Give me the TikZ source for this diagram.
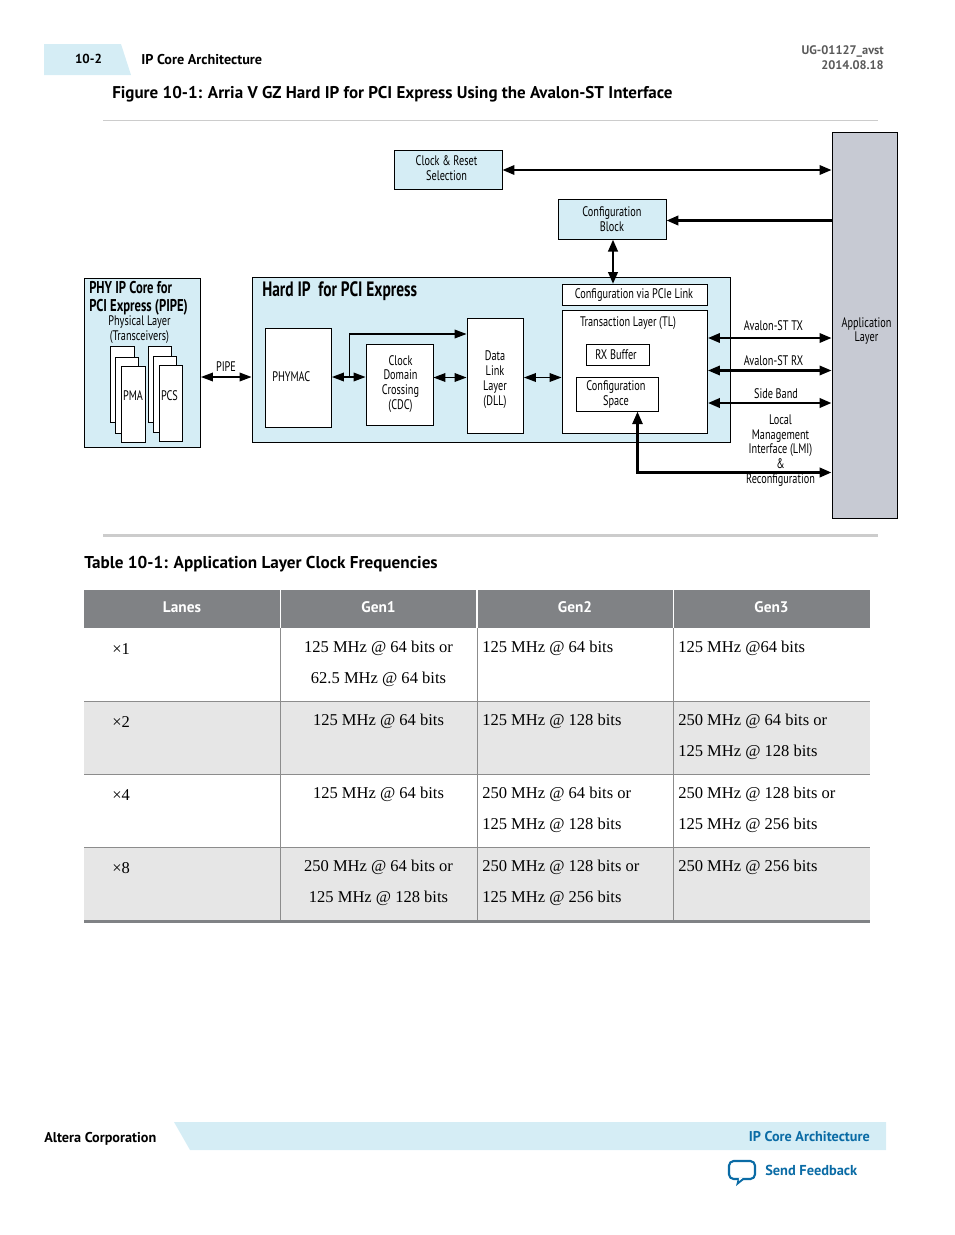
\documentclass[tikz,border=0pt]{standalone}
\usepackage{fontspec}
\setmainfont{Liberation Serif}
\newfontfamily\hd{PT Sans}
\newfontfamily\cnd[FakeStretch=0.74]{PT Sans}
\usetikzlibrary{arrows.meta}
\definecolor{lblue}{HTML}{D5EDF5}
\definecolor{hgray}{HTML}{808285}
\definecolor{rgray}{HTML}{E6E6E6}
\definecolor{appg}{HTML}{C7CAD3}
\definecolor{ablue}{HTML}{0A6BA5}
\tikzset{
  x=0.75pt,y=-0.75pt,
  wbox/.style={draw=black,line width=0.65pt,fill=white,inner sep=0pt,align=center,font=\cnd\fontsize{10.4}{11.2}\selectfont},
  bbox/.style={wbox,fill=lblue},
  gbox/.style={wbox,fill=appg},
  lab/.style={inner sep=0pt,align=center,font=\cnd\fontsize{10.4}{11.2}\selectfont},
  ttl/.style={inner sep=0pt,align=left,font=\cnd\bfseries\fontsize{12.8}{12.8}\selectfont},
  big/.style={inner sep=0pt,anchor=west,font=\cnd\bfseries\fontsize{15.6}{16}\selectfont},
  head/.style={inner sep=0pt,font=\hd\bfseries\fontsize{10.65}{12}\selectfont},
  cell/.style={inner sep=0pt,font=\fontsize{12.4}{15}\selectfont},
  thd/.style={inner sep=0pt,text=white,font=\hd\bfseries\fontsize{11.5}{13}\selectfont},
  both/.style={{Triangle[length=9pt,width=6.5pt]}-{Triangle[length=9pt,width=6.5pt]},line width=1pt},
  bothm/.style={{Triangle[length=9pt,width=7pt]}-{Triangle[length=9pt,width=7pt]},line width=1.7pt},
  toh/.style={-{Triangle[length=9pt,width=6.5pt]},line width=1pt},
  thick2/.style={line width=2.1pt},
}
\newcommand{\bx}[7]{\node[#6,minimum width={(#4-#2)*0.75pt},minimum height={(#5-#3)*0.75pt}] (#1) at ({(#2+#4)/2},{(#3+#5)/2}) {#7};}
\begin{document}
\begin{tikzpicture}
\useasboundingbox (0,0) rectangle (954,1235);
% page furniture
\fill[lblue] (44,44) -- (121,44) -- (131,75) -- (44,75) -- cycle;
\node[head,font=\hd\bfseries\fontsize{9.8}{11}\selectfont] (pg) at (88.5,59) {10-2};
\node[head,anchor=west] (chap) at (141,60) {IP Core Architecture};
\node[inner sep=0pt,align=right,anchor=north east,text=black!65,font=\hd\bfseries\fontsize{9.3}{11.2}\selectfont] (doc) at (884,45) {UG-01127\_avst\\2014.08.18};
\node[inner sep=0pt,anchor=west,font=\hd\bfseries\fontsize{12.75}{14}\selectfont] (figt) at (112,94) {Figure 10-1: Arria V GZ Hard IP for PCI Express Using the Avalon-ST Interface};
\draw[black!20,line width=0.6pt] (103,120.5) -- (878,120.5);
\draw[black!20,line width=2pt] (103,535.5) -- (878,535.5);
% diagram boxes
\bx{app}{832}{132}{897}{518}{gbox}{}
\bx{clock}{394}{150}{502}{189}{bbox}{}
\bx{cblock}{558}{199}{666}{239}{bbox}{Configuration\\Block}
\bx{phy}{84}{278}{200.5}{447}{bbox}{}
\bx{hard}{252}{277}{730}{442}{bbox}{}
\bx{phymac}{265.5}{328}{331.5}{427.5}{wbox}{}
\bx{cdc}{366}{344}{433}{425}{wbox}{}
\bx{dll}{467}{318}{523.5}{433}{wbox}{}
\bx{cvia}{562}{284}{707.5}{305}{wbox}{}
\bx{tl}{562}{310}{707.5}{433.5}{wbox}{}
\bx{rx}{586}{344}{649.5}{365.5}{wbox}{}
\bx{cspace}{576}{377}{658.5}{411.5}{wbox}{}
\bx{pma1}{110}{346}{134}{422.5}{wbox}{}
\bx{pma2}{115.5}{357}{138.5}{433.5}{wbox}{}
\bx{pma3}{121.5}{366}{145}{442.5}{wbox}{}
\bx{pcs1}{148}{346}{171.5}{422}{wbox}{}
\bx{pcs2}{153.5}{356}{176.5}{432.5}{wbox}{}
\bx{pcs3}{159.5}{365.5}{182.5}{441}{wbox}{}
% diagram texts
\node[lab] (clockl) at (446.5,168.5) {Clock \& Reset\\Selection};
\node[lab] (cdcl) at (400.5,384) {Clock\\Domain\\Crossing\\(CDC)};
\node[lab] (dlll) at (495,379.5) {Data\\Link\\Layer\\(DLL)};
\node[lab] (cvial) at (634,295) {Configuration via PCIe Link};
\node[lab] (rxlab) at (616,354.5) {RX Buffer};
\node[lab] (csl) at (616,394.5) {Configuration\\Space};
\node[lab] (pmal) at (133,396) {PMA};
\node[lab] (pcsl) at (169.5,396) {PCS};
\node[lab] (applab) at (866.5,331) {Application\\Layer};
\node[ttl,anchor=north west] (phyt) at (89,281.5) {PHY IP Core for\\PCI Express (PIPE)};
\node[lab] (phys) at (139.5,330) {Physical Layer\\(Transceivers)};
\node[big] (hardt) at (262,291.5) {Hard IP\ \ for PCI Express};
\node[lab,anchor=west] (phyl) at (272,376.5) {PHYMAC};
\node[lab] (tlt) at (628,323) {Transaction Layer (TL)};
\node[lab] (pipel) at (226,366.5) {PIPE};
\node[lab] (txl) at (773.5,325.5) {Avalon-ST TX};
\node[lab] (rxl) at (773.5,360.5) {Avalon-ST RX};
\node[lab] (sbl) at (776,393.5) {Side Band};
\node[lab,font=\cnd\fontsize{10.4}{11.05}\selectfont] (lmil) at (780.5,450.5) {Local\\Management\\Interface (LMI)\\\&\\Reconfiguration};
% connectors
\draw[both] (phy.east |- 0,377) -- (hard.west |- 0,377);
\draw[both] (phymac.east |- 0,377) -- (cdc.west |- 0,377);
\draw[toh] (349.5,377) |- (dll.west |- 0,334);
\draw[both] (cdc.east |- 0,377.5) -- (dll.west |- 0,377.5);
\draw[both] (dll.east |- 0,377.5) -- (tl.west |- 0,377.5);
\draw[bothm] (tl.east |- 0,338) -- (app.west |- 0,338);
\draw[bothm] (tl.east |- 0,370.5) -- (app.west |- 0,370.5);
\draw[bothm,line width=2pt] (tl.east |- 0,403) -- (app.west |- 0,403);
\draw[bothm,line width=1.7pt] (clock.east |- 0,170) -- (app.west |- 0,170);
\draw[thick2,{Triangle[length=9pt,width=7pt]}-] (cblock.east |- 0,220.5) -- (app.west |- 0,220.5);
\draw[bothm,line width=2.1pt] (613,239.5) -- (613,284);
\draw[thick2,{Triangle[length=9.5pt,width=7.5pt]}-{Triangle[length=9pt,width=7pt]}] (637.5,411.5) -- (637.5,472.5) -- (app.west |- 0,472.5);
% table
\fill[hgray] (84,590) rectangle (870,628);
\fill[rgray] (84,701) rectangle (870,774);
\fill[rgray] (84,847) rectangle (870,920);
\draw[black!45,line width=0.55pt] (84,701) -- (870,701) (84,774) -- (870,774) (84,847) -- (870,847);
\draw[hgray,line width=2.6pt] (84,921.5) -- (870,921.5);
\draw[white,line width=1.2pt] (280.5,590) -- (280.5,628) (477,590) -- (477,628) (673.5,590) -- (673.5,628);
\draw[black!45,line width=0.55pt] (280.5,628) -- (280.5,920) (477,628) -- (477,920) (673.5,628) -- (673.5,920);
\node[inner sep=0pt,anchor=west,font=\hd\bfseries\fontsize{12.85}{14}\selectfont] (tabt) at (84,564) {Table 10-1: Application Layer Clock Frequencies};
\node[thd] (h1) at (182,607) {Lanes};
\node[thd] (h2) at (378.5,607) {Gen1};
\node[thd] (h3) at (575,607) {Gen2};
\node[thd] (h4) at (771.5,607) {Gen3};
% rows
\node[cell,anchor=west] (a1) at (112,648.7) {×1};
\node[cell] (b1) at (378.5,648.7) {125 MHz @ 64 bits or};
\node[cell] (b1b) at (378.5,679.7) {62.5 MHz @ 64 bits};
\node[cell,anchor=west] (c1) at (482,648.7) {125 MHz @ 64 bits};
\node[cell,anchor=west] (d1) at (678,648.7) {125 MHz @64 bits};
\node[cell,anchor=west] (a2) at (112,721.7) {×2};
\node[cell] (b2) at (378.5,721.7) {125 MHz @ 64 bits};
\node[cell,anchor=west] (c2) at (482,721.7) {125 MHz @ 128 bits};
\node[cell,anchor=west] (d2) at (678,721.7) {250 MHz @ 64 bits or};
\node[cell,anchor=west] (d2b) at (678,752.7) {125 MHz @ 128 bits};
\node[cell,anchor=west] (a3) at (112,794.7) {×4};
\node[cell] (b3) at (378.5,794.7) {125 MHz @ 64 bits};
\node[cell,anchor=west] (c3) at (482,794.7) {250 MHz @ 64 bits or};
\node[cell,anchor=west] (c3b) at (482,825.7) {125 MHz @ 128 bits};
\node[cell,anchor=west] (d3) at (678,794.7) {250 MHz @ 128 bits or};
\node[cell,anchor=west] (d3b) at (678,825.7) {125 MHz @ 256 bits};
\node[cell,anchor=west] (a4) at (112,867.7) {×8};
\node[cell] (b4) at (378.5,867.7) {250 MHz @ 64 bits or};
\node[cell] (b4b) at (378.5,898.7) {125 MHz @ 128 bits};
\node[cell,anchor=west] (c4) at (482,867.7) {250 MHz @ 128 bits or};
\node[cell,anchor=west] (c4b) at (482,898.7) {125 MHz @ 256 bits};
\node[cell,anchor=west] (d4) at (678,867.7) {250 MHz @ 256 bits};
% footer
\fill[lblue] (174,1122) -- (886,1122) -- (886,1150) -- (190,1150) -- cycle;
\node[head,anchor=west] (alt) at (44,1139) {Altera Corporation};
\node[head,anchor=east,text=ablue] (ipc) at (870,1137) {IP Core Architecture};
\node[head,anchor=west,text=ablue,font=\hd\bfseries\fontsize{10.8}{12}\selectfont] (sf) at (765,1170) {Send Feedback};
\draw[ablue,line width=1.6pt,line join=round,rounded corners=3.5pt] (729,1161) rectangle (755,1179);
\fill[ablue] (742,1178) -- (746,1178) -- (736,1186) -- (738,1178) -- cycle;
\fill[white] (738.8,1177.6) -- (743.2,1177.6) -- (739,1181) -- cycle;
\end{tikzpicture}
\end{document}
